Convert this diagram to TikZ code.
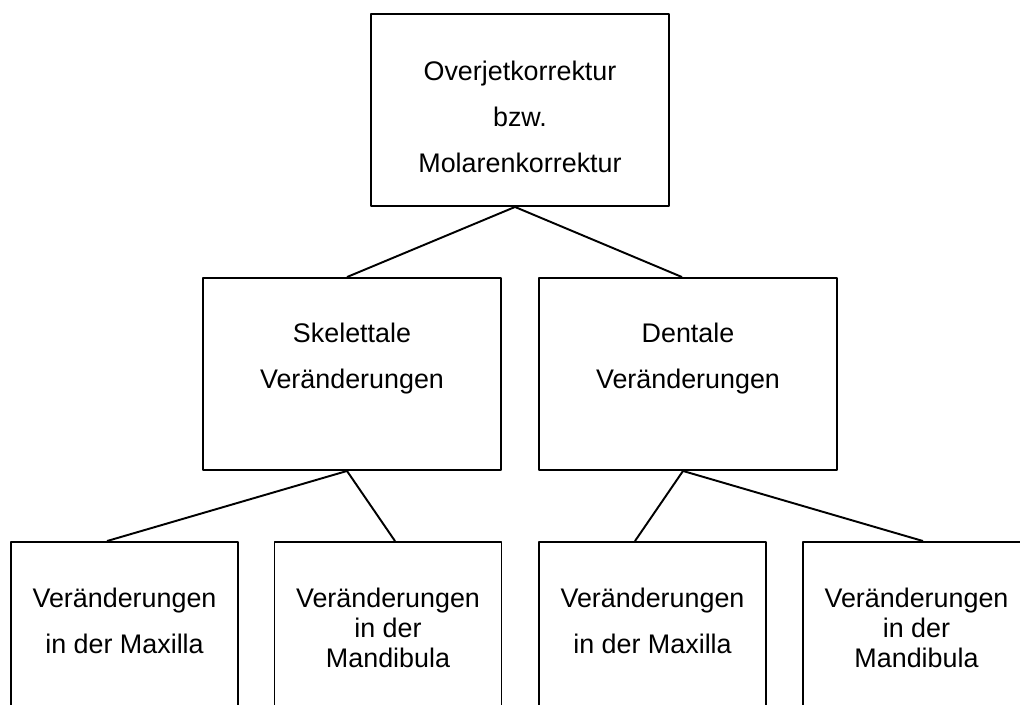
\documentclass[tikz,border=0pt]{standalone}
\usepackage{fontspec}
\setmainfont{Liberation Sans}
\usetikzlibrary{calc}
\begin{document}
\begin{tikzpicture}[line join=round, line width=1.1pt,
	bigbox/.style={draw, rectangle, minimum width=5.96cm, minimum height=3.84cm, inner sep=0pt},
	smallbox/.style={draw, rectangle, minimum width=4.54cm, minimum height=3.84cm, inner sep=0pt},
	txt/.style={anchor=north, align=center, inner sep=0pt, font=\fontsize{15.3}{26}\selectfont},
	tight/.style={font=\fontsize{15.3}{17}\selectfont}]
	\clip (0,0) rectangle (20.4,-14.08);
	% Kaesten
	\node[bigbox] (top) at (10.40,-2.20) {};
	\node[bigbox] (skel) at (7.04,-7.48) {};
	\node[bigbox] (dent) at (13.76,-7.48) {};
	\node[smallbox] (skmax) at (2.49,-12.76) {};
	\node[smallbox] (skman) at (7.76,-12.76) {};
	\node[smallbox] (demax) at (13.05,-12.76) {};
	\node[smallbox] (deman) at (18.33,-12.76) {};
	% Texte
	\node[txt] (topT) at ($(top.north)+(0,-0.70)$) {\strut Overjetkorrektur\\bzw.\\Molarenkorrektur};
	\node[txt] (skelT) at ($(skel.north)+(0,-0.66)$) {\strut Skelettale\\Ver\"anderungen};
	\node[txt] (dentT) at ($(dent.north)+(0,-0.66)$) {\strut Dentale\\Ver\"anderungen};
	\node[txt] (skmaxT) at ($(skmax.north)+(0,-0.68)$) {\strut Ver\"anderungen\\in der Maxilla};
	\node[txt,tight] (skmanT) at ($(skman.north)+(0,-0.90)$) {\strut Ver\"anderungen\\in der\\Mandibula};
	\node[txt] (demaxT) at ($(demax.north)+(0,-0.68)$) {\strut Ver\"anderungen\\in der Maxilla};
	\node[txt,tight] (demanT) at ($(deman.north)+(0,-0.90)$) {\strut Ver\"anderungen\\in der\\Mandibula};
	% Verbindungen
	\draw ($(top.south)+(-0.10,0)$) -- ($(skel.north)+(-0.10,0)$);
	\draw ($(top.south)+(-0.10,0)$) -- ($(dent.north)+(-0.12,0)$);
	\draw ($(skel.south)+(-0.10,0)$) -- ($(skmax.north)+(-0.35,0)$);
	\draw ($(skel.south)+(-0.10,0)$) -- ($(skman.north)+(0.14,0)$);
	\draw ($(dent.south)+(-0.10,0)$) -- ($(demax.north)+(-0.35,0)$);
	\draw ($(dent.south)+(-0.10,0)$) -- ($(deman.north)+(0.13,0)$);
\end{tikzpicture}
\end{document}
